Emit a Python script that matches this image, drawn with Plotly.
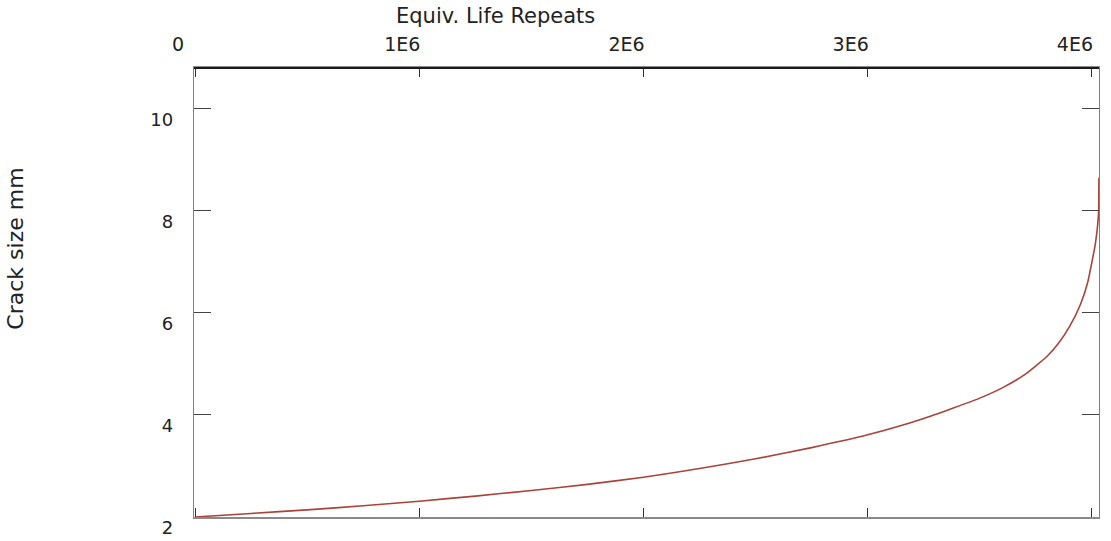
import plotly.graph_objects as go

# Crack growth curve: crack size (mm) against equivalent life repeats
life_repeats = [0, 0.25e6, 0.5e6, 0.75e6, 1.0e6, 1.25e6, 1.5e6, 1.75e6, 2.0e6,
                2.25e6, 2.5e6, 2.75e6, 3.0e6, 3.25e6, 3.5e6, 3.6e6, 3.7e6,
                3.8e6, 3.85e6, 3.9e6, 3.95e6, 3.98e6, 4.0e6, 4.015e6,
                4.025e6, 4.03e6, 4.031e6]
crack_size_mm = [2.00, 2.07, 2.14, 2.22, 2.31, 2.41, 2.52, 2.64, 2.78,
                 2.95, 3.14, 3.36, 3.61, 3.93, 4.33, 4.53, 4.79,
                 5.15, 5.40, 5.73, 6.18, 6.58, 7.00, 7.35,
                 7.70, 8.00, 8.65]

x_ticks = [0, 1e6, 2e6, 3e6, 4e6]
x_tick_labels = ["0", "1E6", "2E6", "3E6", "4E6"]
y_ticks = [2, 4, 6, 8, 10]
y_tick_labels = ["2", "4", "6", "8", "10"]

FONT = "DejaVu Sans"
X_RANGE = [-4500, 4.0315e6]
Y_RANGE = [2, 10.8]

fig = go.Figure()
fig.add_trace(go.Scatter(
    x=life_repeats, y=crack_size_mm,
    mode="lines", line=dict(color="#a8443b", width=1.6, shape="spline", smoothing=0.5),
    showlegend=False, hoverinfo="skip", cliponaxis=False,
))

fig.update_layout(
    width=1111, height=541, autosize=False,
    margin=dict(l=194, r=12, t=68, b=24, autoexpand=False),
    paper_bgcolor="white", plot_bgcolor="white",
    font=dict(family=FONT, color="#222222", size=18),
    # labelled axis sits on top; mirrored ticks mark the bottom edge
    xaxis=dict(range=X_RANGE, tickvals=x_ticks, ticktext=x_tick_labels,
               side="top", mirror="ticks", ticks="inside", ticklen=9,
               tickcolor="#333333", tickwidth=1, automargin=False,
               showline=True, linecolor="#8a8a8a", linewidth=1.5,
               showgrid=False, zeroline=False,
               ticklabelshift=-17, ticklabelstandoff=8,
               tickfont=dict(family=FONT, size=19, color="#222222")),
    yaxis=dict(range=Y_RANGE, tickvals=y_ticks, ticktext=y_tick_labels,
               mirror="ticks", ticks="inside", ticklen=17,
               tickcolor="#444444", tickwidth=1.2, automargin=False,
               showline=True, linecolor="#808080", linewidth=1.4,
               showgrid=False, zeroline=False,
               ticklabelshift=11, ticklabelstandoff=16,
               tickfont=dict(family=FONT, size=18, color="#222222")),
    # dark frame line along the top edge
    shapes=[dict(type="line", xref="paper", yref="paper", x0=0, x1=1, y0=1, y1=1,
                 line=dict(color="#1a1a1a", width=2))],
    annotations=[
        dict(text="Equiv. Life Repeats", xref="paper", yref="paper",
             x=0.333, y=1.116, xanchor="center", yanchor="middle",
             showarrow=False, font=dict(family=FONT, size=21, color="#222222")),
        dict(text="Crack size mm", xref="paper", yref="paper",
             x=-0.197, y=0.597, xanchor="center", yanchor="middle",
             textangle=-90, showarrow=False,
             font=dict(family=FONT, size=22, color="#222222")),
    ],
)

fig.write_html("out.html")
